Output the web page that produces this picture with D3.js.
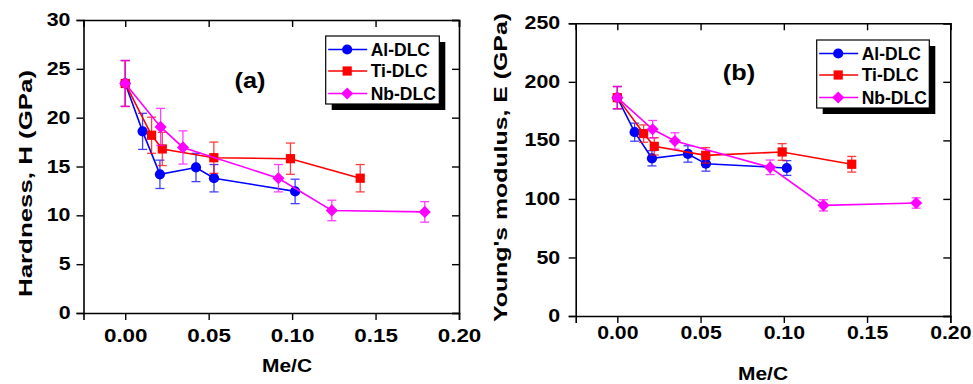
<!DOCTYPE html>
<html>
<head>
<meta charset="utf-8">
<script src="https://cdn.jsdelivr.net/npm/d3@7"></script>
<style>
  body { margin: 0; background: #fff; }
  text { font-family: "Liberation Sans", Arial, sans-serif; font-weight: bold; fill: #000; }
</style>
</head>
<body>
<svg></svg>
<script>
const svgWidth = 973;
const svgHeight = 384;

// Me/C ratio of each sample (shared by both panels)
const alX = [0, 0.0104, 0.0208, 0.0424, 0.0532, 0.1018];
const tiX = [0, 0.0158, 0.0222, 0.0531, 0.099, 0.1408];
const nbX = [0, 0.0212, 0.0346, 0.0918, 0.1238, 0.1795];

// hardness (GPa) and its error
const alH = [23.5, 18.6, 14.2, 14.9, 13.8, 12.45];
const alHErr = [2.35, 1.85, 1.45, 1.45, 1.4, 1.25];
const tiH = [23.5, 18.2, 16.8, 15.9, 15.8, 13.8];
const tiHErr = [2.35, 1.85, 1.7, 1.6, 1.6, 1.4];
const nbH = [23.5, 19.05, 16.95, 13.8, 10.5, 10.35];
const nbHErr = [2.35, 1.9, 1.7, 1.4, 1.05, 1.05];

// Young's modulus (GPa) and its error
const alE = [186.5, 157, 134.7, 138.4, 130.1, 126.4];
const alEErr = [9.5, 7.7, 6.5, 7, 6.4, 6.3];
const tiE = [186.5, 155.8, 144.9, 137.2, 140.1, 129.6];
const tiEErr = [9.5, 7.4, 7.4, 6.6, 7.1, 6.7];
const nbE = [186.5, 159.5, 149.5, 127, 94.5, 96.5];
const nbEErr = [9.5, 7.5, 7, 6.2, 4.8, 4.4];

const seriesNames = ['Al-DLC', 'Ti-DLC', 'Nb-DLC'];
const seriesColors = ['#0000ff', '#ff0000', '#ff00ff'];
// diamond = square turned 45 degrees
const seriesShapes = [d3.symbolCircle, d3.symbolSquare, d3.symbolSquare];
const shapeSizes = [82, 85, 74];
const shapeTurn = [0, 0, 45];

const xDomain = [-0.025, 0.2];
const xTicks = [0, 0.05, 0.1, 0.15, 0.2];
const xMinor = [-0.025, 0.025, 0.075, 0.125, 0.175];
const hTicks = [0, 5, 10, 15, 20, 25, 30];
const hMinor = [2.5, 7.5, 12.5, 17.5, 22.5, 27.5];
const eTicks = [0, 50, 100, 150, 200, 250];
const eMinor = [25, 75, 125, 175, 225];

const panels = [
  {
    label: '(a)', labelPos: [250, 88],
    xRange: [83.5, 459], yRange: [313, 20], yDomain: [0, 30],
    yTicks: hTicks, yMinor: hMinor,
    xs: [alX, tiX, nbX], ys: [alH, tiH, nbH], errs: [alHErr, tiHErr, nbHErr],
    yTitle: 'Hardness, H (GPa)', yTitlePos: [31.5, 183.5], yTitleLen: 227,
    xTitlePos: [287, 371.5], xPad: 9, xFont: 19, yPad: 6,
    legend: [325.7, 36, 113.6, 68]
  },
  {
    label: '(b)', labelPos: [739, 80],
    xRange: [575.7, 950.3], yRange: [316, 23.3], yDomain: [0, 250],
    yTicks: eTicks, yMinor: eMinor,
    xs: [alX, tiX, nbX], ys: [alE, tiE, nbE], errs: [alEErr, tiEErr, nbEErr],
    yTitle: "Young's modulus, E (GPa)", yTitlePos: [507, 167.5], yTitleLen: 309,
    xTitlePos: [763, 380], xPad: 3, xFont: 18, yPad: 8.5,
    legend: [816.7, 40, 112.6, 68]
  }
];

const svg = d3.select('svg')
  .attr('width', svgWidth)
  .attr('height', svgHeight);

// make the glyphs a bit wider, like the exported figure
const stretch = function stretch(sel, k) {
  sel.each(function () {
    const w = this.getComputedTextLength();
    d3.select(this).attr('textLength', w * k).attr('lengthAdjust', 'spacingAndGlyphs');
  });
};

const drawPanel = function drawPanel(p) {
  const x = d3.scaleLinear().domain(xDomain).range(p.xRange);
  const y = d3.scaleLinear().domain(p.yDomain).range(p.yRange);
  const g = svg.append('g');
  const fmt = d3.format('.2f');

  // frame axes: bottom/left ticks out, top/right ticks in
  const bottom = g.append('g').attr('transform', `translate(0,${p.yRange[0]})`);
  bottom.call(d3.axisBottom(x).tickValues(xMinor).tickSize(4).tickFormat(''));
  bottom.call(d3.axisBottom(x).tickValues(xTicks).tickSize(7).tickPadding(p.xPad).tickFormat(fmt));
  bottom.selectAll('text').style('font-size', p.xFont + 'px').call(stretch, 1.18);

  const top = g.append('g').attr('transform', `translate(0,${p.yRange[1]})`);
  top.call(d3.axisTop(x).tickValues(xMinor).tickSize(-4).tickFormat(''));
  top.call(d3.axisTop(x).tickValues(xTicks).tickSize(-7).tickFormat(''));

  const left = g.append('g').attr('transform', `translate(${p.xRange[0]},0)`);
  left.call(d3.axisLeft(y).tickValues(p.yMinor).tickSize(4).tickFormat(''));
  left.call(d3.axisLeft(y).tickValues(p.yTicks).tickSize(7).tickPadding(p.yPad).tickFormat(d3.format('d')));
  left.selectAll('text').style('font-size', '17.5px').call(stretch, 1.22);

  const right = g.append('g').attr('transform', `translate(${p.xRange[1]},0)`);
  right.call(d3.axisRight(y).tickValues(p.yMinor).tickSize(-4).tickFormat(''));
  right.call(d3.axisRight(y).tickValues(p.yTicks).tickSize(-7).tickFormat(''));

  g.selectAll('.domain').attr('stroke', '#000').attr('stroke-width', 1.6);
  g.selectAll('.tick line').attr('stroke', '#000').attr('stroke-width', 1.4);

  // series: lines, error bars, markers
  for (let s = 0; s < 3; s++) {
    const pts = p.xs[s].map((v, i) => ({x: v, y: p.ys[s][i], e: p.errs[s][i]}));
    const color = seriesColors[s];
    const sg = g.append('g');

    sg.append('path')
      .attr('d', d3.line().x(d => x(d.x)).y(d => y(d.y))(pts))
      .attr('fill', 'none')
      .attr('stroke', color)
      .attr('stroke-width', 1.6);

    const eb = sg.selectAll('.err').data(pts).enter().append('g')
      .attr('stroke', color).attr('stroke-width', 1.3).attr('opacity', 0.75);
    eb.append('line')
      .attr('x1', d => x(d.x)).attr('x2', d => x(d.x))
      .attr('y1', d => y(d.y - d.e)).attr('y2', d => y(d.y + d.e));
    eb.append('line')
      .attr('x1', d => x(d.x) - 4.5).attr('x2', d => x(d.x) + 4.5)
      .attr('y1', d => y(d.y + d.e)).attr('y2', d => y(d.y + d.e));
    eb.append('line')
      .attr('x1', d => x(d.x) - 4.5).attr('x2', d => x(d.x) + 4.5)
      .attr('y1', d => y(d.y - d.e)).attr('y2', d => y(d.y - d.e));

    sg.selectAll('.mark').data(pts).enter().append('path')
      .attr('d', d3.symbol().type(seriesShapes[s]).size(shapeSizes[s]))
      .attr('transform', d => `translate(${x(d.x)},${y(d.y)}) rotate(${shapeTurn[s]})`)
      .attr('fill', color);
  }

  // panel label
  g.append('text')
    .attr('x', p.labelPos[0]).attr('y', p.labelPos[1])
    .attr('text-anchor', 'middle')
    .style('font-size', '22px')
    .text(p.label)
    .call(stretch, 1.15);

  // axis titles
  g.append('text')
    .attr('x', p.xTitlePos[0]).attr('y', p.xTitlePos[1])
    .attr('text-anchor', 'middle')
    .style('font-size', '19px')
    .text('Me/C')
    .attr('textLength', 50).attr('lengthAdjust', 'spacingAndGlyphs');

  g.append('text')
    .attr('transform', `translate(${p.yTitlePos[0]},${p.yTitlePos[1]}) rotate(-90)`)
    .attr('text-anchor', 'middle')
    .style('font-size', '18px')
    .text(p.yTitle)
    .attr('textLength', p.yTitleLen).attr('lengthAdjust', 'spacingAndGlyphs');

  // legend with drop shadow
  const [lx, ly, lw, lh] = p.legend;
  const lg = g.append('g').attr('transform', `translate(${lx},${ly})`);
  lg.append('rect').attr('x', 6).attr('y', 6).attr('width', lw).attr('height', lh).attr('fill', '#000');
  lg.append('rect').attr('width', lw).attr('height', lh)
    .attr('fill', '#fff').attr('stroke', '#000').attr('stroke-width', 1.2);
  const rowY = [13.5, 35, 57.5];
  for (let s = 0; s < 3; s++) {
    const row = lg.append('g').attr('transform', `translate(0,${rowY[s]})`);
    row.append('line').attr('x1', 2.5).attr('x2', 41.5)
      .attr('stroke', seriesColors[s]).attr('stroke-width', 1.6);
    row.append('path')
      .attr('d', d3.symbol().type(seriesShapes[s]).size(shapeSizes[s]))
      .attr('transform', `translate(21.5,0) rotate(${shapeTurn[s]})`)
      .attr('fill', seriesColors[s]);
    row.append('text')
      .attr('x', 45).attr('dy', '0.36em')
      .style('font-size', '17.5px')
      .text(seriesNames[s]);
  }
};

panels.forEach(drawPanel);
</script>
</body>
</html>
